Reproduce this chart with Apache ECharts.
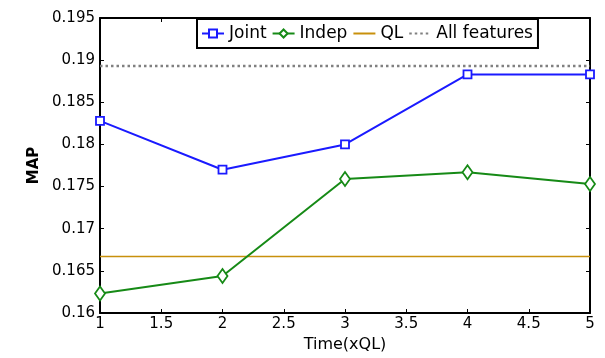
<!DOCTYPE html>
<html>
<head>
<meta charset="utf-8">
<script src="https://cdn.jsdelivr.net/npm/echarts@6/dist/echarts.min.js"></script>
<style>
  html, body { margin: 0; padding: 0; background: #fff; }
  #chart { width: 605px; height: 358px; }
</style>
</head>
<body>
<div id="chart"></div>
<script>
// Time budget multiples of QL
const times = [1, 2, 3, 4, 5];
// MAP per method
const jointMAP = [0.1828, 0.1770, 0.1800, 0.1883, 0.1883];
const indepMAP = [0.1623, 0.1644, 0.1759, 0.1767, 0.1753];
// Reference levels (constant over time)
const qlMAP = 0.1667;
const allFeaturesMAP = 0.1893;

const xRange = [1, 5];
const yRange = [0.16, 0.195];

const font = '"DejaVu Sans", Verdana, sans-serif';
const pairs = (xs, ys) => xs.map((x, i) => [x, ys[i]]);
const flat = (v) => [[xRange[0], v], [xRange[1], v]];

const chart = echarts.init(document.getElementById('chart'), null, { renderer: 'canvas' });

const frameAxis = {
  axisLine: { show: true, lineStyle: { color: '#000', width: 2 } },
  axisTick: { show: true, inside: true, length: 4, lineStyle: { color: '#000', width: 1 } },
  splitLine: { show: false }
};

// Reference lines have no marker, so their legend symbol is hidden
const plainLegendItem = (name) => ({
  name,
  itemStyle: { color: 'rgba(0,0,0,0)', borderColor: 'rgba(0,0,0,0)', borderWidth: 0 }
});

chart.setOption({
  animation: false,
  backgroundColor: '#fff',
  grid: { left: 100, right: 15, top: 18, bottom: 45 },
  legend: {
    left: 197, top: 19,
    padding: [6, 5, 6, 4],
    itemGap: 5,
    itemWidth: 22, itemHeight: 10,
    backgroundColor: '#fff',
    borderColor: '#000', borderWidth: 2,
    textStyle: { fontFamily: font, fontSize: 17, color: '#000' },
    data: ['Joint', 'Indep', plainLegendItem('QL'), plainLegendItem('All features')]
  },
  xAxis: [
    Object.assign({
      type: 'value', position: 'bottom',
      min: xRange[0], max: xRange[1], interval: 0.5,
      name: 'Time(xQL)', nameLocation: 'middle', nameGap: 19,
      nameTextStyle: { fontFamily: font, fontSize: 16, color: '#000' },
      axisLabel: { fontFamily: font, fontSize: 15, color: '#000', margin: 4,
        formatter: (v) => String(parseFloat(v.toFixed(2))) }
    }, frameAxis),
    Object.assign({
      type: 'value', position: 'top',
      min: xRange[0], max: xRange[1], interval: 0.5,
      axisLabel: { show: false }
    }, frameAxis)
  ],
  yAxis: [
    Object.assign({
      type: 'value', position: 'left',
      min: yRange[0], max: yRange[1], interval: 0.005,
      name: 'MAP', nameLocation: 'middle', nameGap: 57, nameRotate: 90,
      nameTextStyle: { fontFamily: font, fontSize: 15, color: '#000', fontWeight: 'bold' },
      axisLabel: { fontFamily: font, fontSize: 15, color: '#000', margin: 5,
        formatter: (v) => String(parseFloat(v.toFixed(3))) }
    }, frameAxis),
    Object.assign({
      type: 'value', position: 'right',
      min: yRange[0], max: yRange[1], interval: 0.005,
      axisLabel: { show: false }
    }, frameAxis)
  ],
  series: [
    {
      name: 'Joint', type: 'line', data: pairs(times, jointMAP),
      color: '#1a1aff',
      lineStyle: { color: '#1a1aff', width: 2 },
      symbol: 'rect', symbolSize: 8, showAllSymbol: true,
      itemStyle: { color: '#fff', borderColor: '#1a1aff', borderWidth: 1.8 },
      z: 5
    },
    {
      name: 'Indep', type: 'line', data: pairs(times, indepMAP),
      color: '#168a16',
      lineStyle: { color: '#168a16', width: 2 },
      symbol: 'diamond', symbolSize: [10, 14], showAllSymbol: true,
      itemStyle: { color: '#fff', borderColor: '#168a16', borderWidth: 1.8 },
      z: 5
    },
    {
      name: 'QL', type: 'line', data: flat(qlMAP),
      color: '#c8900c',
      lineStyle: { color: '#c8900c', width: 1.6 },
      symbol: 'none', z: 3
    },
    {
      name: 'All features', type: 'line', data: flat(allFeaturesMAP),
      color: '#808080',
      lineStyle: { color: '#808080', width: 2.5, type: [2.5, 3] },
      symbol: 'none', z: 3
    }
  ]
});
</script>
</body>
</html>
